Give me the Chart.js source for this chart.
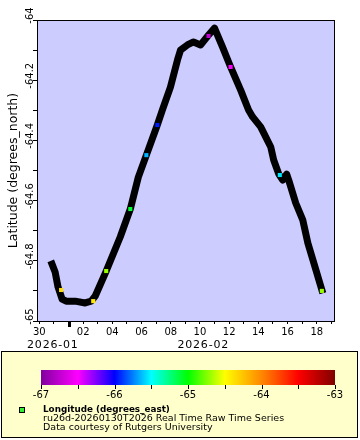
<!DOCTYPE html>
<html>
<head>
<meta charset="utf-8">
<script src="https://cdn.jsdelivr.net/npm/chart.js@4.4.1/dist/chart.umd.min.js"></script>
<style>
  html, body { margin: 0; padding: 0; background: #fff; }
  #wrap { width: 360px; height: 440px; }
</style>
</head>
<body>
<div id="wrap"><canvas id="chart" width="360" height="440"></canvas></div>
<script>
// days since 2026-01-01 00:00 (Jan 30 = 29, Feb 1 = 31)
const trackDays = [29.87, 30.08, 30.28, 30.56, 30.84, 31.45, 32.14, 32.55, 32.83, 33.58, 34.54, 35.23, 35.78, 36.33, 37.08, 37.43, 37.98, 38.46, 38.67, 39.14, 39.56, 40.04, 40.59, 41.0, 41.55, 42.1, 42.79, 43.33, 43.61, 44.16, 44.85, 45.05, 45.4, 45.67, 45.94, 46.08, 46.56, 47.04, 47.39, 47.8, 48.35];
const trackLat = [-64.811, -64.837, -64.887, -64.927, -64.934, -64.934, -64.940, -64.934, -64.917, -64.834, -64.721, -64.628, -64.522, -64.449, -64.349, -64.299, -64.223, -64.133, -64.100, -64.083, -64.073, -64.083, -64.050, -64.027, -64.090, -64.156, -64.233, -64.299, -64.322, -64.355, -64.422, -64.465, -64.512, -64.532, -64.512, -64.532, -64.608, -64.664, -64.741, -64.807, -64.897];

// colored samples (longitude)
const markDays = [30.49, 32.69, 33.58, 35.23, 36.33, 37.08, 40.59, 42.1, 45.47, 48.35];
const markLat = [-64.897, -64.934, -64.834, -64.628, -64.449, -64.349, -64.053, -64.156, -64.515, -64.900];
const markLon = [-64.35, -64.4, -64.7, -65.1, -65.65, -65.95, -66.75, -66.5, -65.55, -64.7];

const xTickValues = [29, 32, 34, 36, 38, 40, 42, 44, 46, 48];
const xTickLabels = ['30', '02', '04', '06', '08', '10', '12', '14', '16', '18'];
const yTickValues = [-64, -64.2, -64.4, -64.6, -64.8, -65];
const yTickLabels = ['-64', '-64.2', '-64.4', '-64.6', '-64.8', '-65'];
const monthDays = [28.16, 38.46];
const monthLabels = ['2026-01', '2026-02'];
const monthBoundary = 31;

const cbarValues = [-67, -66.5, -66, -65.5, -65, -64.5, -64, -63.5, -63];
const cbarColors = ['#80009f', '#ff00ff', '#0000ff', '#00ffff', '#00ff00', '#ffff00', '#ff8800', '#ff0000', '#800000'];
const cbarLabels = ['-67', '-66', '-65', '-64', '-63'];

const FONT = '"DejaVu Sans", sans-serif';

function hexRgb(h) {
    return [parseInt(h.slice(1, 3), 16), parseInt(h.slice(3, 5), 16), parseInt(h.slice(5, 7), 16)];
}

function lonColor(v) {
    for (let i = 0; i < cbarValues.length - 1; i++) {
        if (v <= cbarValues[i + 1] || i === cbarValues.length - 2) {
            const t = Math.max(0, Math.min(1, (v - cbarValues[i]) / (cbarValues[i + 1] - cbarValues[i])));
            const a = hexRgb(cbarColors[i]), b = hexRgb(cbarColors[i + 1]);
            const c = a.map((c0, k) => Math.round(c0 + (b[k] - c0) * t));
            return `rgb(${c[0]},${c[1]},${c[2]})`;
        }
    }
}

const decor = {
    id: 'decor',
    beforeDraw(chart) {
        const { ctx, chartArea: a } = chart;
        ctx.save();
        ctx.fillStyle = '#fff';
        ctx.fillRect(0, 0, chart.width, chart.height);
        ctx.fillStyle = '#ccccff';
        ctx.fillRect(a.left, a.top, a.right - a.left, a.bottom - a.top);
        ctx.restore();
    },
    afterDraw(chart) {
        const { ctx, chartArea: a } = chart;
        const xs = chart.scales.x, ys = chart.scales.y;
        ctx.save();
        // plot frame
        ctx.strokeStyle = '#000';
        ctx.lineWidth = 1;
        ctx.strokeRect(a.left + 0.5, a.top + 0.5, a.right - a.left - 1, a.bottom - a.top);

        // month boundary mark
        const mb = Math.round(xs.getPixelForValue(monthBoundary));
        ctx.fillStyle = '#000';
        ctx.fillRect(mb - 1, a.bottom, 3, 6);

        // y tick labels (rotated)
        ctx.font = '10px ' + FONT;
        ctx.textAlign = 'center';
        ctx.textBaseline = 'alphabetic';
        yTickValues.forEach((v, i) => {
            const py = ys.getPixelForValue(v) - 4.5;
            ctx.save();
            ctx.translate(32.5, py);
            ctx.rotate(-Math.PI / 2);
            ctx.fillText(yTickLabels[i], 0, 0);
            ctx.restore();
        });

        // y title
        ctx.save();
        ctx.font = '12.5px ' + FONT;
        ctx.translate(17, (a.top + a.bottom) / 2);
        ctx.rotate(-Math.PI / 2);
        ctx.fillText('Latitude (degrees_north)', 0, 0);
        ctx.restore();

        // month labels
        ctx.font = '11px ' + FONT;
        ctx.letterSpacing = '0.8px';
        ctx.textAlign = 'left';
        monthDays.forEach((d, i) => {
            ctx.fillText(monthLabels[i], xs.getPixelForValue(d), 348);
        });
        ctx.letterSpacing = '0px';

        // legend box
        ctx.fillStyle = '#ffffcc';
        ctx.fillRect(1, 351, 357, 87);
        ctx.strokeStyle = '#000';
        ctx.strokeRect(1.5, 351.5, 356, 86);

        // colour bar
        const cx0 = 41, cx1 = 335, cy0 = 370, cy1 = 385;
        const span = cbarValues[cbarValues.length - 1] - cbarValues[0];
        const grad = ctx.createLinearGradient(cx0, 0, cx1, 0);
        cbarValues.forEach((v, i) => grad.addColorStop((v - cbarValues[0]) / span, cbarColors[i]));
        ctx.fillStyle = grad;
        ctx.fillRect(cx0, cy0, cx1 - cx0, cy1 - cy0);
        ctx.strokeStyle = '#000';
        ctx.beginPath();
        cbarValues.forEach(v => {
            const px = Math.round(cx0 + (v - cbarValues[0]) / span * (cx1 - cx0)) + 0.5;
            ctx.moveTo(px, cy1);
            ctx.lineTo(px, cy1 + 4);
        });
        ctx.stroke();
        ctx.fillStyle = '#000';
        ctx.font = '10px ' + FONT;
        ctx.textAlign = 'center';
        ctx.textBaseline = 'alphabetic';
        cbarLabels.forEach((l, i) => {
            ctx.fillText(l, cx0 + i * (cx1 - cx0) / (cbarLabels.length - 1), 398);
        });

        // legend entry
        ctx.fillStyle = '#33ee33';
        ctx.fillRect(19, 407, 5, 5);
        ctx.strokeStyle = '#000';
        ctx.strokeRect(19.5, 407.5, 5, 5);
        ctx.fillStyle = '#000';
        ctx.textAlign = 'left';
        ctx.font = 'bold 8.8px ' + FONT;
        ctx.fillText('Longitude (degrees_east)', 43, 412);
        ctx.font = '9.5px ' + FONT;
        ctx.fillText('ru26d-20260130T2026 Real Time Raw Time Series', 43, 421);
        ctx.fillText('Data courtesy of Rutgers University', 43, 430);
        ctx.restore();
    }
};

const ctx = document.getElementById('chart').getContext('2d');
const chart = new Chart(ctx, {
    type: 'line',
    data: {
        datasets: [{
            type: 'scatter',
            data: markDays.map((d, i) => ({ x: d, y: markLat[i] })),
            pointStyle: 'rect',
            pointRadius: 2.9,
            borderWidth: 0,
            backgroundColor: markLon.map(lonColor),
            order: 0
        }, {
            type: 'line',
            data: trackDays.map((d, i) => ({ x: d, y: trackLat[i] })),
            borderColor: '#000',
            borderWidth: 7,
            borderJoinStyle: 'round',
            borderCapStyle: 'square',
            pointRadius: 0,
            tension: 0,
            fill: false,
            order: 1
        }]
    },
    options: {
        responsive: false,
        animation: false,
        layout: { padding: { left: 0, top: 20, right: 25, bottom: 0 } },
        plugins: { legend: { display: false }, tooltip: { enabled: false } },
        scales: {
            x: {
                type: 'linear',
                min: 28.84,
                max: 49.25,
                afterFit: s => { s.height = 119; },
                afterBuildTicks: s => {
                    const t = [];
                    for (let d = 29; d <= 49; d++) t.push({ value: d });
                    s.ticks = t;
                },
                border: { display: false },
                grid: { drawOnChartArea: false, drawTicks: true, tickLength: 3, color: '#000' },
                ticks: {
                    autoSkip: false,
                    maxRotation: 0,
                    padding: 2,
                    color: '#000',
                    font: { family: FONT, size: 10 },
                    callback: v => {
                        const i = xTickValues.indexOf(v);
                        return i >= 0 ? xTickLabels[i] : '';
                    }
                }
            },
            y: {
                type: 'linear',
                min: -65,
                max: -64,
                afterFit: s => { s.width = 37; },
                border: { display: false },
                grid: { drawOnChartArea: false, drawTicks: true, tickLength: 4, color: '#000' },
                ticks: { stepSize: 0.1, display: false }
            }
        }
    },
    plugins: [decor]
});
</script>
</body>
</html>
